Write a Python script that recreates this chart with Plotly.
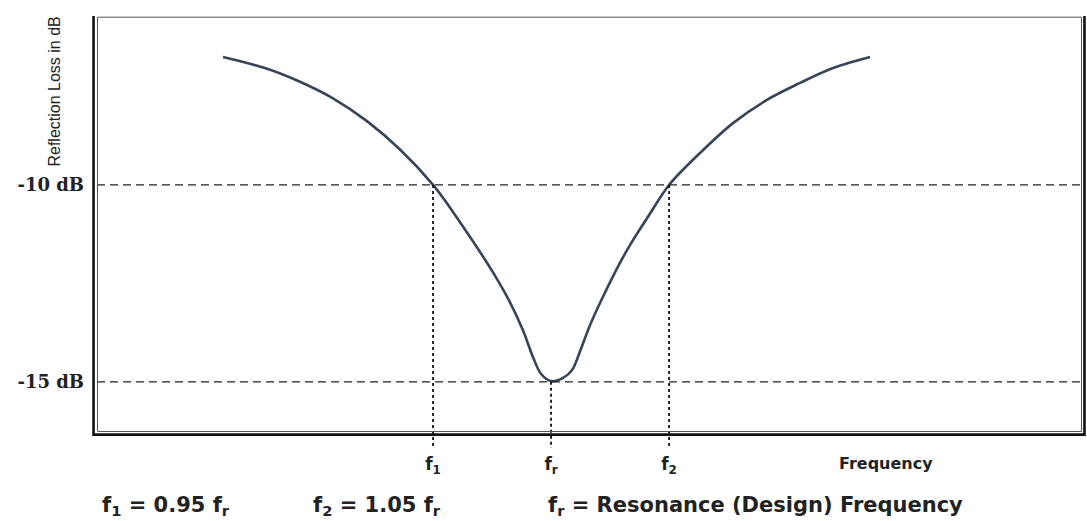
import plotly.graph_objects as go

# normalized frequency f/fr and reflection loss (dB)
freq = [0.861, 0.8797, 0.8936, 0.9076, 0.9220, 0.9360, 0.9500, 0.9585, 0.9669, 0.9754,
        0.9826, 0.9881, 0.9924, 0.9958, 1.0000, 1.0051, 1.0089, 1.0123, 1.0165, 1.0220,
        1.0292, 1.0335, 1.0419, 1.0500, 1.0631, 1.0771, 1.0915, 1.1055, 1.1195, 1.1352]
loss = [-6.75, -7.05, -7.38, -7.80, -8.38, -9.10, -10.0, -10.69, -11.43, -12.22,
        -12.98, -13.69, -14.38, -14.80, -14.98, -14.90, -14.70, -14.22, -13.56, -12.84,
        -11.98, -11.52, -10.73, -10.0, -9.19, -8.43, -7.84, -7.41, -7.03, -6.75]

marker_freqs = [0.95, 1.0, 1.05]
marker_levels = [-10.0, -15.0, -10.0]
x_tick_text = ["f<sub>1</sub>", "f<sub>r</sub>", "f<sub>2</sub>"]
ref_levels = [-10, -15]
y_tick_text = ["-10 dB", "-15 dB"]

x_range = [0.8076, 1.2254]
y_range = [-16.73, -5.71]
box_bottom = -16.29
line_bottom = -16.68

fig = go.Figure()
fig.add_trace(go.Scatter(x=freq, y=loss, mode="lines",
                         line=dict(color="#36455a", width=2.6, shape="spline", smoothing=1.0),
                         hoverinfo="skip", showlegend=False))

shapes = []
for lv in ref_levels:
    shapes.append(dict(type="line", xref="paper", yref="y", x0=0, x1=1, y0=lv, y1=lv,
                       line=dict(color="#222222", width=1.3, dash="8px,5px")))
for fx, lv in zip(marker_freqs, marker_levels):
    shapes.append(dict(type="line", xref="x", yref="y", x0=fx, x1=fx, y0=lv, y1=line_bottom,
                       line=dict(color="#111111", width=1.8, dash="3px,3px")))
# double border box
shapes.append(dict(type="rect", xref="paper", yref="y", x0=-0.0035, x1=1.0015, y0=y_range[1] + 0.05, y1=box_bottom - 0.05,
                   line=dict(color="#111111", width=2.6)))
shapes.append(dict(type="rect", xref="paper", yref="y", x0=0.0005, x1=0.9985, y0=y_range[1] - 0.03, y1=box_bottom + 0.03,
                   line=dict(color="#555555", width=1)))

bold = "DejaVu Sans"
bottom_font = dict(family=bold, size=21, color="#222")
annotations = [
    dict(text="Reflection Loss in dB", xref="paper", yref="paper", x=-0.043, y=0.825,
         textangle=-90, showarrow=False, xanchor="center", yanchor="middle",
         font=dict(family="Liberation Sans", size=16, color="#222")),
    dict(text="<b>Frequency</b>", xref="paper", yref="paper", x=0.75, y=-0.005,
         showarrow=False, xanchor="left", yanchor="top", font=dict(family=bold, size=16, color="#222")),
    dict(text="<b>f<sub>1</sub> = 0.95 f<sub>r</sub></b>", xref="paper", yref="paper", x=0.003, y=-0.128,
         showarrow=False, xanchor="left", yanchor="middle", font=bottom_font),
    dict(text="<b>f<sub>2</sub> = 1.05 f<sub>r</sub></b>", xref="paper", yref="paper", x=0.217, y=-0.128,
         showarrow=False, xanchor="left", yanchor="middle", font=bottom_font),
    dict(text="<b>f<sub>r</sub> = Resonance (Design) Frequency</b>", xref="paper", yref="paper", x=0.455, y=-0.128,
         showarrow=False, xanchor="left", yanchor="middle", font=bottom_font),
]

fig.update_layout(
    width=1087, height=521,
    margin=dict(l=97, r=4, t=16, b=71),
    paper_bgcolor="white", plot_bgcolor="white",
    shapes=shapes, annotations=annotations, showlegend=False,
    xaxis=dict(range=x_range, showgrid=False, zeroline=False, showline=False,
               tickmode="array", tickvals=marker_freqs, ticktext=[f"<b>{t}</b>" for t in x_tick_text],
               ticks="", ticklabelstandoff=2,
               tickfont=dict(family=bold, size=17, color="#222")),
    yaxis=dict(range=y_range, showgrid=False, zeroline=False, showline=False,
               tickmode="array", tickvals=ref_levels, ticktext=[f"<b>{t}</b>" for t in y_tick_text],
               ticks="", ticklabelstandoff=12,
               tickfont=dict(family="DejaVu Serif", size=18, color="#222")),
)

fig.write_html("out.html", config={"displayModeBar": False},
               post_script="document.body.style.margin='0';")
